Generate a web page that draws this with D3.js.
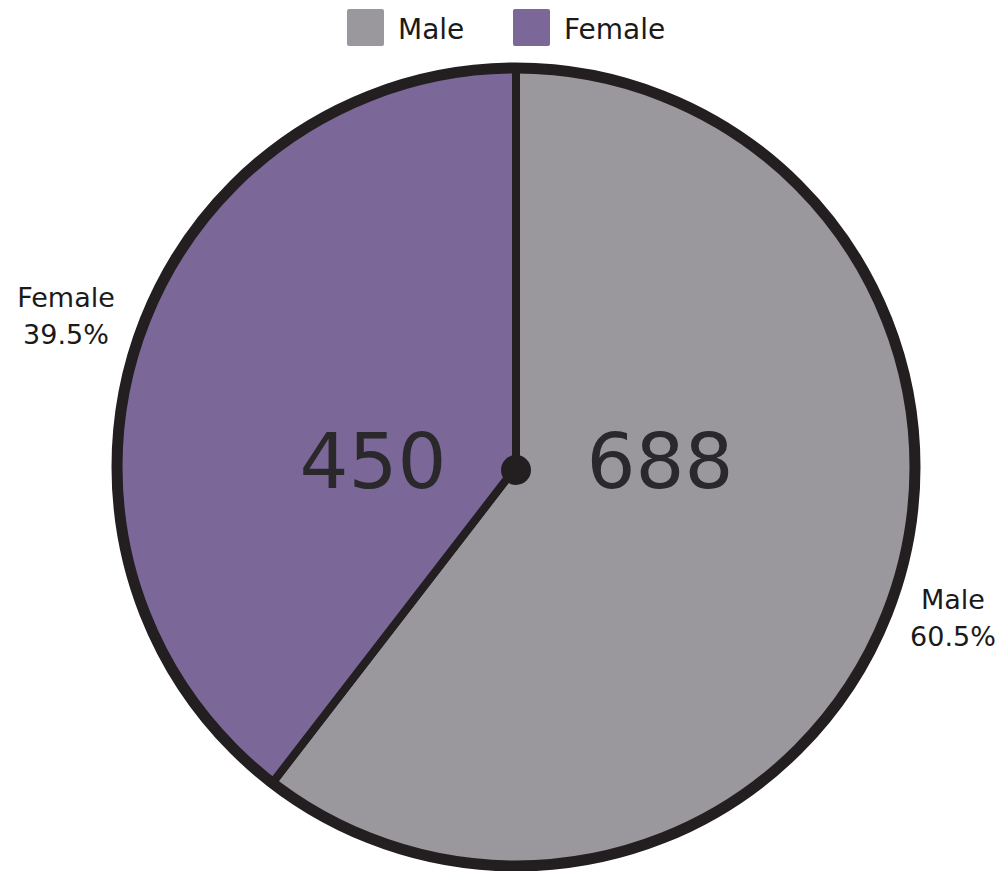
<!DOCTYPE html>
<html>
<head>
<meta charset="utf-8">
<script src="https://cdn.jsdelivr.net/npm/d3@7"></script>
<style>
  html, body { margin: 0; padding: 0; background: #ffffff; }
  svg { display: block; }
  text { font-family: "DejaVu Sans", sans-serif; }
</style>
</head>
<body>
<svg id="chart" width="1001" height="871"></svg>
<script>
const categories = ["Male", "Female"];
const values = [688, 450];
const percentLabels = ["60.5%", "39.5%"];
const colors = ["#9a979d", "#7b6899"];

const W = 1001, H = 871;
const cx = 516, cy = 467, R = 399;
const ink = "#231f20";

const svg = d3.select("#chart");

// Legend
const legend = svg.append("g");
const legendItems = [{x: 347}, {x: 513}];
categories.forEach((c, i) => {
  const g = legend.append("g").attr("transform", `translate(${legendItems[i].x},9)`);
  g.append("rect").attr("width", 37).attr("height", 37).attr("rx", 2)
    .attr("fill", colors[i]);
  g.append("text").attr("x", 51).attr("y", 30).attr("font-size", 28)
    .attr("fill", "#1a1a1a").text(c);
});

const pie = d3.pie().sort(null).value(d => d);
const arcs = pie(values);
const arc = d3.arc().innerRadius(0).outerRadius(R);

const g = svg.append("g").attr("transform", `translate(${cx},${cy})`);

g.selectAll("path.slice").data(arcs).enter().append("path")
  .attr("class", "slice")
  .attr("d", arc)
  .attr("fill", (d, i) => colors[i])
  .attr("stroke", ink)
  .attr("stroke-width", 8)
  .attr("stroke-linejoin", "miter");

// outer thick rim
g.append("circle").attr("r", R).attr("fill", "none")
  .attr("stroke", ink).attr("stroke-width", 11);

// center dot
g.append("circle").attr("cy", 3).attr("r", 15).attr("fill", ink);

// values inside
g.selectAll("text.val").data(arcs).enter().append("text")
  .attr("class", "val")
  .attr("x", d => (d.startAngle + d.endAngle) / 2 > Math.PI ? -143 : 144)
  .attr("y", 21)
  .attr("text-anchor", "middle")
  .attr("font-size", 77)
  .attr("fill", "#2a282b")
  .text(d => d.data);

// outer labels
const labelPos = [{x: 953 - cx, y1: 609 - cy, y2: 646 - cy}, {x: 66 - cx, y1: 307 - cy, y2: 344 - cy}];
arcs.forEach((d, i) => {
  const lt = g.append("text").attr("text-anchor", "middle").attr("font-size", 27)
    .attr("fill", "#1a1a1a");
  lt.append("tspan").attr("x", labelPos[i].x).attr("y", labelPos[i].y1).text(categories[i]);
  lt.append("tspan").attr("x", labelPos[i].x).attr("y", labelPos[i].y2).text(percentLabels[i]);
});
</script>
</body>
</html>
